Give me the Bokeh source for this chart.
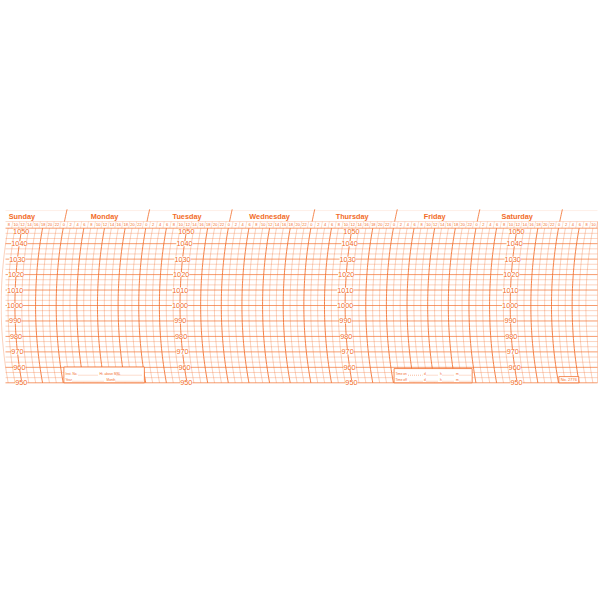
import numpy as np
from bokeh.plotting import figure
from bokeh.models import Range1d
from bokeh.embed import file_html
from bokeh.resources import INLINE
from bokeh.core.properties import value

# ---------------- data ----------------
days = ["Sunday", "Monday", "Tuesday", "Wednesday", "Thursday", "Friday", "Saturday"]
day_start_hour = [0, 24, 48, 72, 96, 120, 144]          # hours after Sunday 00:00
week_end_hour = 168
chart_first_hour = 8                                    # chart begins Sunday 08:00
chart_last_hour = 178                                   # ends next Sunday 10:00
hour_ticks = list(range(8, 179, 2))                     # printed hour marks
hour_tick_labels = [str(h % 24) for h in hour_ticks]
major_hour_every = 6
pressure_min, pressure_max = 950, 1050
pressure_labels = [1050, 1040, 1030, 1020, 1010, 1000, 990, 980, 970, 960, 950]
pressure_minor_divisions = 3                            # lines per 10 hPa
pressure_label_days = ["Sunday", "Tuesday", "Thursday", "Saturday"]
inst_box_lines = [("Inst. No.", "Ht. above MSL"), ("Year", "Month")]
time_box_lines = [("Time on", "d", "h", "m"), ("Time off", "d", "h", "m")]
chart_number = "No. 2776"

# ---------------- style / layout ----------------
ORANGE = "#F26C28"
PX_H = 3.4396        # px per hour
PX_P = 1.546         # px per hPa
SAG = 7.0            # arc sag in px over the half height
HALF = (pressure_max - pressure_min) / 2 * PX_P
R = (HALF ** 2 + SAG ** 2) / (2 * SAG)
P_MID = (pressure_min + pressure_max) / 2

W, H = 600, 400
ORIGIN_X, ORIGIN_Y = 0, 0
x0 = 24 - (62.7 - ORIGIN_X) / PX_H
x1 = x0 + W / PX_H
y_top = P_MID + (305.0 - ORIGIN_Y) / PX_P
y_bot = y_top - H / PX_P
x_grid_l = 24 - (62.7 - 5) / PX_H
x_grid_r = 24 + (597 - 62.7) / PX_H

P_HOURROW = 1052.1
P_HEADLINE = 1054.3
P_DAYTEXT = 1057.7
P_TOPLINE = 1061.4


def arc_dx(pv):
    """offset (in hours) of a time arc at pressure pv"""
    dy = (np.asarray(pv, dtype=float) - P_MID) * PX_P
    return ((R - np.sqrt(R ** 2 - dy ** 2)) - SAG) / PX_H


p = figure(width=W, height=H, x_range=Range1d(x0, x1), y_range=Range1d(y_bot, y_top),
           output_backend="svg", toolbar_location=None, min_border=0,
           x_axis_location=None, y_axis_location=None)
p.grid.visible = False
p.outline_line_color = None
p.background_fill_color = "white"

# horizontal pressure lines
n_minor = int((pressure_max - pressure_min) / 10 * pressure_minor_divisions)
minor_p = [pressure_min + i * 10 / pressure_minor_divisions for i in range(n_minor + 1)]
thin_p = [v for i, v in enumerate(minor_p) if i % pressure_minor_divisions != 0]
bold_p = [v for i, v in enumerate(minor_p) if i % pressure_minor_divisions == 0]
p.multi_line(xs=[[x_grid_l, x_grid_r]] * len(thin_p), ys=[[v, v] for v in thin_p],
             line_color=ORANGE, line_alpha=0.42, line_width=0.7)
p.multi_line(xs=[[x_grid_l, x_grid_r]] * len(bold_p), ys=[[v, v] for v in bold_p],
             line_color=ORANGE, line_alpha=0.75, line_width=0.9)

# header lines
p.multi_line(xs=[[x_grid_l, x_grid_r]], ys=[[P_HEADLINE, P_HEADLINE]], line_color=ORANGE,
             line_alpha=0.35, line_width=0.7)
p.multi_line(xs=[[x_grid_l, x_grid_r]], ys=[[P_TOPLINE, P_TOPLINE]], line_color=ORANGE,
             line_alpha=0.18, line_width=0.6)
# right edge
p.multi_line(xs=[[x_grid_r, x_grid_r]], ys=[[pressure_min, P_HEADLINE]], line_color=ORANGE,
             line_alpha=0.45, line_width=0.7)

# time arcs
ps = np.linspace(pressure_min, pressure_max, 60)
thin_xs, thin_ys, bold_xs, bold_ys = [], [], [], []
for h in hour_ticks:
    xs = list(h + arc_dx(ps))
    if h % major_hour_every == 0:
        bold_xs.append(xs); bold_ys.append(list(ps))
    else:
        thin_xs.append(xs); thin_ys.append(list(ps))
p.multi_line(xs=thin_xs, ys=thin_ys, line_color=ORANGE, line_alpha=0.45, line_width=0.7)
p.multi_line(xs=bold_xs, ys=bold_ys, line_color=ORANGE, line_alpha=0.85, line_width=1.0)

# odd-hour ticks in the hour row
odd = [h + 1 for h in hour_ticks if h + 1 < x_grid_r]
rp = np.array([pressure_max, P_HEADLINE])
p.multi_line(xs=[list(h + arc_dx(rp)) for h in odd], ys=[list(rp)] * len(odd),
             line_color=ORANGE, line_alpha=0.35, line_width=0.6)

# day separators in header
seps = [h for h in day_start_hour[1:]] + [week_end_hour]
sp = np.linspace(P_HEADLINE, P_TOPLINE + 0.8, 8)
p.multi_line(xs=[list(h + arc_dx(sp)) for h in seps], ys=[list(sp)] * len(seps),
             line_color=ORANGE, line_alpha=0.9, line_width=0.9)

# hour labels
p.text(x=[h + float(arc_dx(P_HOURROW)) for h in hour_ticks], y=[P_HOURROW] * len(hour_ticks),
       text=hour_tick_labels, text_color=ORANGE, text_font=value("Liberation Sans"),
       text_font_size="4px", text_align="center", text_baseline="middle")

# day labels
p.text(x=[s + 12 for s in day_start_hour], y=[P_DAYTEXT] * len(days), text=days,
       text_color=ORANGE, text_font=value("Liberation Sans"), text_font_style="bold",
       text_font_size="7.3px", text_align="center", text_baseline="middle")

# pressure labels along noon arcs
for d in pressure_label_days:
    noon = day_start_hour[days.index(d)] + 12
    mids = [v for v in pressure_labels if v not in (pressure_min, pressure_max)]
    p.text(x=[noon + float(arc_dx(v)) for v in mids], y=mids, text=[str(v) for v in mids],
           text_color=ORANGE, text_font=value("Liberation Sans"), text_font_size="7.3px",
           text_align="center", text_baseline="middle", background_fill_color="white")
    p.text(x=[noon + float(arc_dx(pressure_max - 2.5))], y=[pressure_max - 0.4],
           text=[str(pressure_max)], text_color=ORANGE, text_font=value("Liberation Sans"),
           text_font_size="7.3px", text_align="center", text_baseline="top",
           background_fill_color="white")
    p.text(x=[noon + float(arc_dx(pressure_min + 2.5))], y=[pressure_min + 0.1],
           text=[str(pressure_min)], text_color=ORANGE, text_font=value("Liberation Sans"),
           text_font_size="7.3px", text_align="center", text_baseline="alphabetic",
           background_fill_color="white")

# info boxes
sun = day_start_hour[days.index("Monday")]
fri = day_start_hour[days.index("Friday")]
sat_end = week_end_hour
p.quad(left=[sun + 0.2, fri + 0.2], right=[sun + 23.6, fri + 22.9],
       bottom=[pressure_min] * 2, top=[960.2, 959.2], fill_color="white",
       line_color=ORANGE, line_width=0.8)
p.quad(left=[sat_end + 0.1], right=[sat_end + 5.9], bottom=[pressure_min], top=[954.0],
       fill_color="white", line_color=ORANGE, line_width=0.8)

row_p = [955.8, 951.9]
small = dict(text_color=ORANGE, text_font=value("Liberation Sans"), text_font_size="3.2px",
             text_align="left", text_baseline="middle")
dot = dict(line_color=ORANGE, line_width=0.5, line_dash="1 1", line_alpha=0.9)

def hx(px):
    return 24 + (px - 62.7) / PX_H

# Sunday / Monday box
sun_text_px = [(65, 99), (65, 106)]
sun_dots_px = [[(78, 97), (116, 142)], [(72, 104), (115, 142)]]
for (a, b), (pa, pb), dots, yy in zip(inst_box_lines, sun_text_px, sun_dots_px, row_p):
    p.text(x=[hx(pa), hx(pb)], y=[yy, yy], text=[a, b], **small)
    for (u, v) in dots:
        p.line(x=[hx(u), hx(v)], y=[yy - 0.9, yy - 0.9], **dot)

# Friday box
fri_text_px = [395, 423.5, 439.5, 455.5]
fri_dots_px = [(407.5, 422), (426, 438), (442, 454), (459, 470)]
for words, yy in zip(time_box_lines, row_p):
    p.text(x=[hx(v) for v in fri_text_px], y=[yy] * 4, text=list(words), **small)
    for (u, v) in fri_dots_px:
        uu = u + (1.5 if words[0] == "Time off" and u == 407.5 else 0)
        p.line(x=[hx(uu), hx(v)], y=[yy - 0.9, yy - 0.9], **dot)

p.text(x=[sat_end + 3.0], y=[952.0], text=[chart_number], text_color=ORANGE,
       text_font=value("Liberation Sans"), text_font_size="4px", text_align="center",
       text_baseline="middle")

open("out.html", "w").write(file_html(p, INLINE))
